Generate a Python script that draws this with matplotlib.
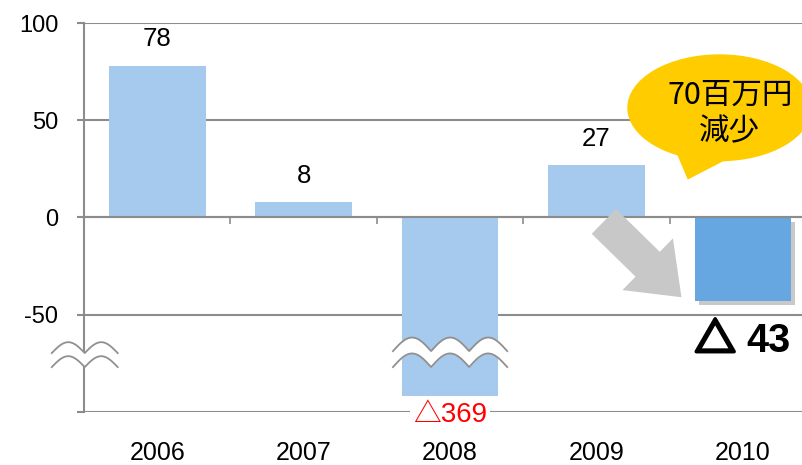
#!/usr/bin/env python3
"""
Yearly result bar chart with broken axis for the 2008 loss.
"""

import matplotlib
matplotlib.use("Agg")
import matplotlib.pyplot as plt
import matplotlib.patheffects as pe
import numpy as np
from matplotlib.patches import Ellipse, Polygon

years = ["2006", "2007", "2008", "2009", "2010"]
values = [78, 8, -369, 27, -43]
value_labels = ["78", "8", "△369", "27", "△ 43"]
display_floor = -92  # bars below this are cut by the break mark
callout_text = "70百万円\n減少"

LIGHT = "#A6CAEE"
DARK = "#66A6E1"
GRID = "#8C8C8C"
FONTS = ["Liberation Sans", "Noto Sans CJK JP", "DejaVu Sans"]

plt.rcParams["font.family"] = FONTS


def wave(x0, x1, humps, yc, amp, n=300):
    xs = np.linspace(x0, x1, n)
    ys = yc + amp * np.abs(np.sin(np.pi * humps * (xs - x0) / (x1 - x0)))
    return xs, ys


def break_mark(ax, x0, x1, humps, yc, amp, gap):
    xs, top = wave(x0, x1, humps, yc, amp)
    _, bot = wave(x0, x1, humps, yc - gap, amp)
    ax.fill_between(xs, bot, top, color="white", zorder=6, clip_on=False, lw=0)
    ax.plot(xs, top, color="#909090", lw=1.3, zorder=7, clip_on=False)
    ax.plot(xs, bot, color="#909090", lw=1.3, zorder=7, clip_on=False)


fig = plt.figure(figsize=(8.03, 4.65), dpi=100)
ax = fig.add_axes([84 / 803, 53 / 465, 719 / 803, 389 / 465])

x = np.arange(len(years))
shown = np.maximum(values, display_floor)
colors = [LIGHT] * (len(years) - 1) + [DARK]
bars = ax.bar(x, shown, width=0.66, color=colors, zorder=3)
bars[-1].set_path_effects([pe.SimplePatchShadow(offset=(3, -3), shadow_rgbFace="#666666", alpha=0.35),
                           pe.Normal()])

# grid / axes
ax.set_yticks([-100, -50, 0, 50, 100])
ax.set_yticklabels(["", "-50", "0", "50", "100"], fontsize=17)
ax.yaxis.grid(True, color=GRID, lw=1.5, zorder=1)
ax.tick_params(axis="y", length=5, width=1.5, color=GRID, pad=13.5)
ax.set_xticks(np.arange(len(years) + 1) - 0.5)
ax.set_xticklabels([])
ax.tick_params(axis="x", length=5, width=1.2, color=GRID, direction="out")
ax.set_xlim(-0.5, 4.41)
ax.set_ylim(-100, 100)
for side in ("top", "right"):
    ax.spines[side].set_visible(False)
ax.spines["left"].set_color(GRID)
ax.spines["left"].set_linewidth(1.5)
ax.spines["bottom"].set_position(("data", 0))
ax.spines["bottom"].set_color(GRID)
ax.spines["bottom"].set_linewidth(1.5)
ax.spines["bottom"].set_zorder(4)

for xi, yr in zip(x, years):
    ax.text(xi, -0.105, yr, transform=ax.get_xaxis_transform(), ha="center", va="center",
            fontsize=18)

# data labels
for xi, v, lab in zip(x, values, value_labels):
    if v > 0:
        ax.annotate(lab, (xi, v), xytext=(0, 19), textcoords="offset points",
                    ha="center", va="center", fontsize=18.5)
ax.text(x[2], -101.5, value_labels[2], ha="center", va="center", fontsize=20, color="red",
        zorder=8, bbox=dict(boxstyle="square,pad=0.1", fc="white", ec="none"), clip_on=False)

# "△ 43": heavy outlined triangle plus bold number
tri, num = value_labels[4].split(" ")
ax.annotate(tri, (x[4], -63.3), xytext=(-20, 0), textcoords="offset points",
            ha="center", va="center", fontsize=29, color="black", zorder=8,
            family=["Noto Sans CJK JP", "DejaVu Sans"],
            path_effects=[pe.withStroke(linewidth=2.6, foreground="black")])
ax.annotate(num, (x[4], -63.3), xytext=(18.7, 0), textcoords="offset points",
            ha="center", va="center", fontsize=28.5, fontweight="bold", zorder=8)

# break marks
break_mark(ax, -0.72, -0.27, 2, -69.7, 5.6, 7.2)
break_mark(ax, 1.61, 2.39, 3, -68.7, 7.0, 8.2)

# arrow
ax.annotate("", xy=(3.58, -41), xytext=(3.05, -2),
            arrowprops=dict(arrowstyle="simple,head_width=5.2,head_length=3.4,tail_width=2.5",
                            mutation_scale=10, fc="#C8C8C8", ec="none",
                            shrinkA=0, shrinkB=0), zorder=5)

# callout
ax.add_patch(Ellipse((3.84, 56.4), 1.26, 55, fc="#FFCC00", ec="none", zorder=6, clip_on=False))
ax.add_patch(Polygon([(3.55, 32.5), (3.623, 19.5), (3.88, 29.5)], closed=True,
                     fc="#FFCC00", ec="none", zorder=6, clip_on=False))
ax.text(3.91, 53.5, callout_text, ha="center", va="center", fontsize=22, linespacing=1.2,
        family=["Noto Sans CJK JP", "DejaVu Sans"], zorder=7)

fig.savefig("out.png", dpi=100)
